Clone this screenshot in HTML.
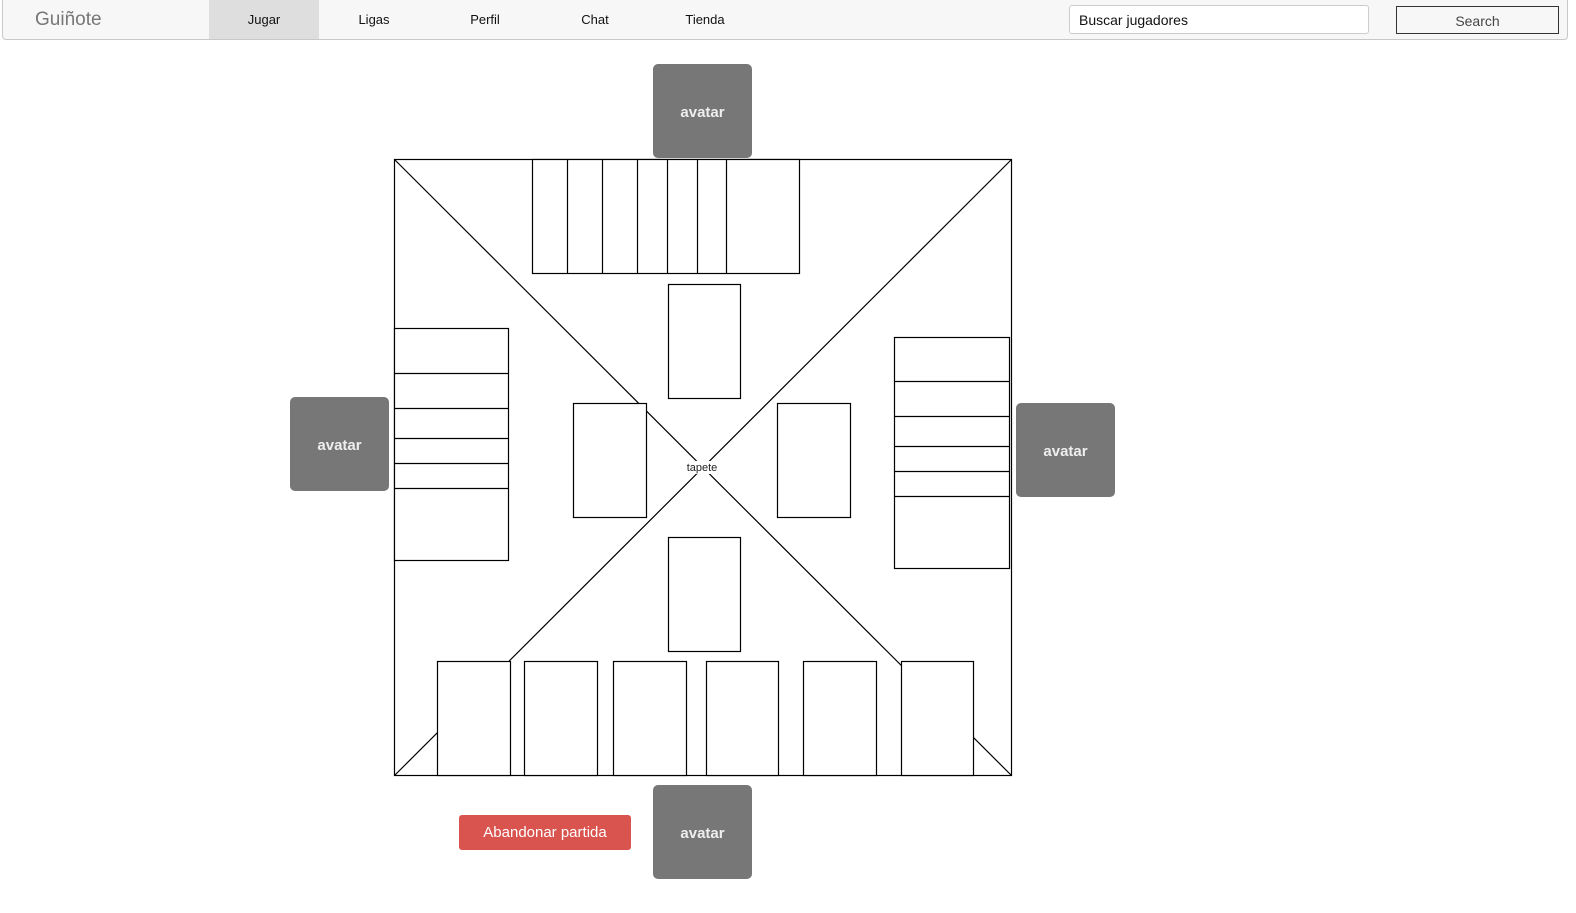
<!DOCTYPE html>
<html><head><meta charset="utf-8"><style>
body{margin:0;width:1576px;height:913px;background:#fff;position:relative;overflow:hidden;font-family:"Liberation Sans",sans-serif}
.nav{position:absolute;left:2px;top:0;width:1564px;height:39px;background:#f7f7f7;border:1px solid #c8c8c8;border-top:none;border-radius:0 0 4px 4px}
.brand{position:absolute;left:32px;top:9px;font-size:19px;color:#777}
.item{position:absolute;top:0;height:39px;line-height:40px;font-size:13px;color:#111;text-align:center;width:110px}
.input{position:absolute;left:1068px;top:5px;width:300px;height:29px;border:1px solid #ccc;border-radius:3px;background:#fff;font-size:14px;line-height:29px;padding-left:9px;box-sizing:border-box;color:#111}
.btn{position:absolute;left:1395px;top:6px;width:163px;height:28px;border:1px solid #333;box-sizing:border-box;text-align:center;line-height:28px;font-size:14px;color:#444;background:#f7f7f7}
.av{position:absolute;width:99px;height:94px;background:#777;border-radius:5px;color:#eee;font-weight:bold;font-size:15px;text-align:center;line-height:98px}
.ab{position:absolute;left:459px;top:815px;width:172px;height:35px;background:#d9534f;border-radius:3px;color:#fff;font-size:15px;text-align:center;line-height:35px}
svg{position:absolute;left:0;top:0}
</style></head><body>
<div class="nav">
<div class="brand">Guiñote</div>
<div class="item" style="left:206px;background:#dedede">Jugar</div>
<div class="item" style="left:316px">Ligas</div>
<div class="item" style="left:427px">Perfil</div>
<div class="item" style="left:537px">Chat</div>
<div class="item" style="left:647px">Tienda</div>
<div class="input" style="left:1066px">Buscar jugadores</div>
<div class="btn" style="left:1393px">Search</div>
</div>
<svg width="1576" height="913" fill="#fff" stroke="#000" stroke-width="1.2">
<rect x="394.5" y="159.5" width="617" height="616" fill="none"/>
<line x1="394.5" y1="159.5" x2="1011.5" y2="775.5"/>
<line x1="1011.5" y1="159.5" x2="394.5" y2="775.5"/>
<rect x="532.5" y="159.5" width="267" height="114"/>
<line x1="567.5" y1="159.5" x2="567.5" y2="273.5"/>
<line x1="602.5" y1="159.5" x2="602.5" y2="273.5"/>
<line x1="637.5" y1="159.5" x2="637.5" y2="273.5"/>
<line x1="667.5" y1="159.5" x2="667.5" y2="273.5"/>
<line x1="697.5" y1="159.5" x2="697.5" y2="273.5"/>
<line x1="726.5" y1="159.5" x2="726.5" y2="273.5"/>
<rect x="394.5" y="328.5" width="114" height="232"/>
<line x1="394.5" y1="373.5" x2="508.5" y2="373.5"/>
<line x1="394.5" y1="408.5" x2="508.5" y2="408.5"/>
<line x1="394.5" y1="438.5" x2="508.5" y2="438.5"/>
<line x1="394.5" y1="463.5" x2="508.5" y2="463.5"/>
<line x1="394.5" y1="488.5" x2="508.5" y2="488.5"/>
<rect x="894.5" y="337.5" width="115" height="231"/>
<line x1="894.5" y1="381.5" x2="1009.5" y2="381.5"/>
<line x1="894.5" y1="416.5" x2="1009.5" y2="416.5"/>
<line x1="894.5" y1="446.5" x2="1009.5" y2="446.5"/>
<line x1="894.5" y1="471.5" x2="1009.5" y2="471.5"/>
<line x1="894.5" y1="496.5" x2="1009.5" y2="496.5"/>
<rect x="668.5" y="284.5" width="72" height="114"/>
<rect x="573.5" y="403.5" width="73" height="114"/>
<rect x="777.5" y="403.5" width="73" height="114"/>
<rect x="668.5" y="537.5" width="72" height="114"/>
<rect x="437.5" y="661.5" width="73" height="114"/>
<rect x="524.5" y="661.5" width="73" height="114"/>
<rect x="613.5" y="661.5" width="73" height="114"/>
<rect x="706.5" y="661.5" width="72" height="114"/>
<rect x="803.5" y="661.5" width="73" height="114"/>
<rect x="901.5" y="661.5" width="72" height="114"/>
<rect x="685" y="461" width="34" height="13" stroke="none"/>
<text x="702" y="471" font-size="11" fill="#222" stroke="none" text-anchor="middle" font-family="Liberation Sans,sans-serif">tapete</text>
</svg>
<div class="av" style="left:653px;top:64px">avatar</div>
<div class="av" style="left:290px;top:397px">avatar</div>
<div class="av" style="left:1016px;top:403px">avatar</div>
<div class="av" style="left:653px;top:785px">avatar</div>
<div class="ab">Abandonar partida</div>
</body></html>
